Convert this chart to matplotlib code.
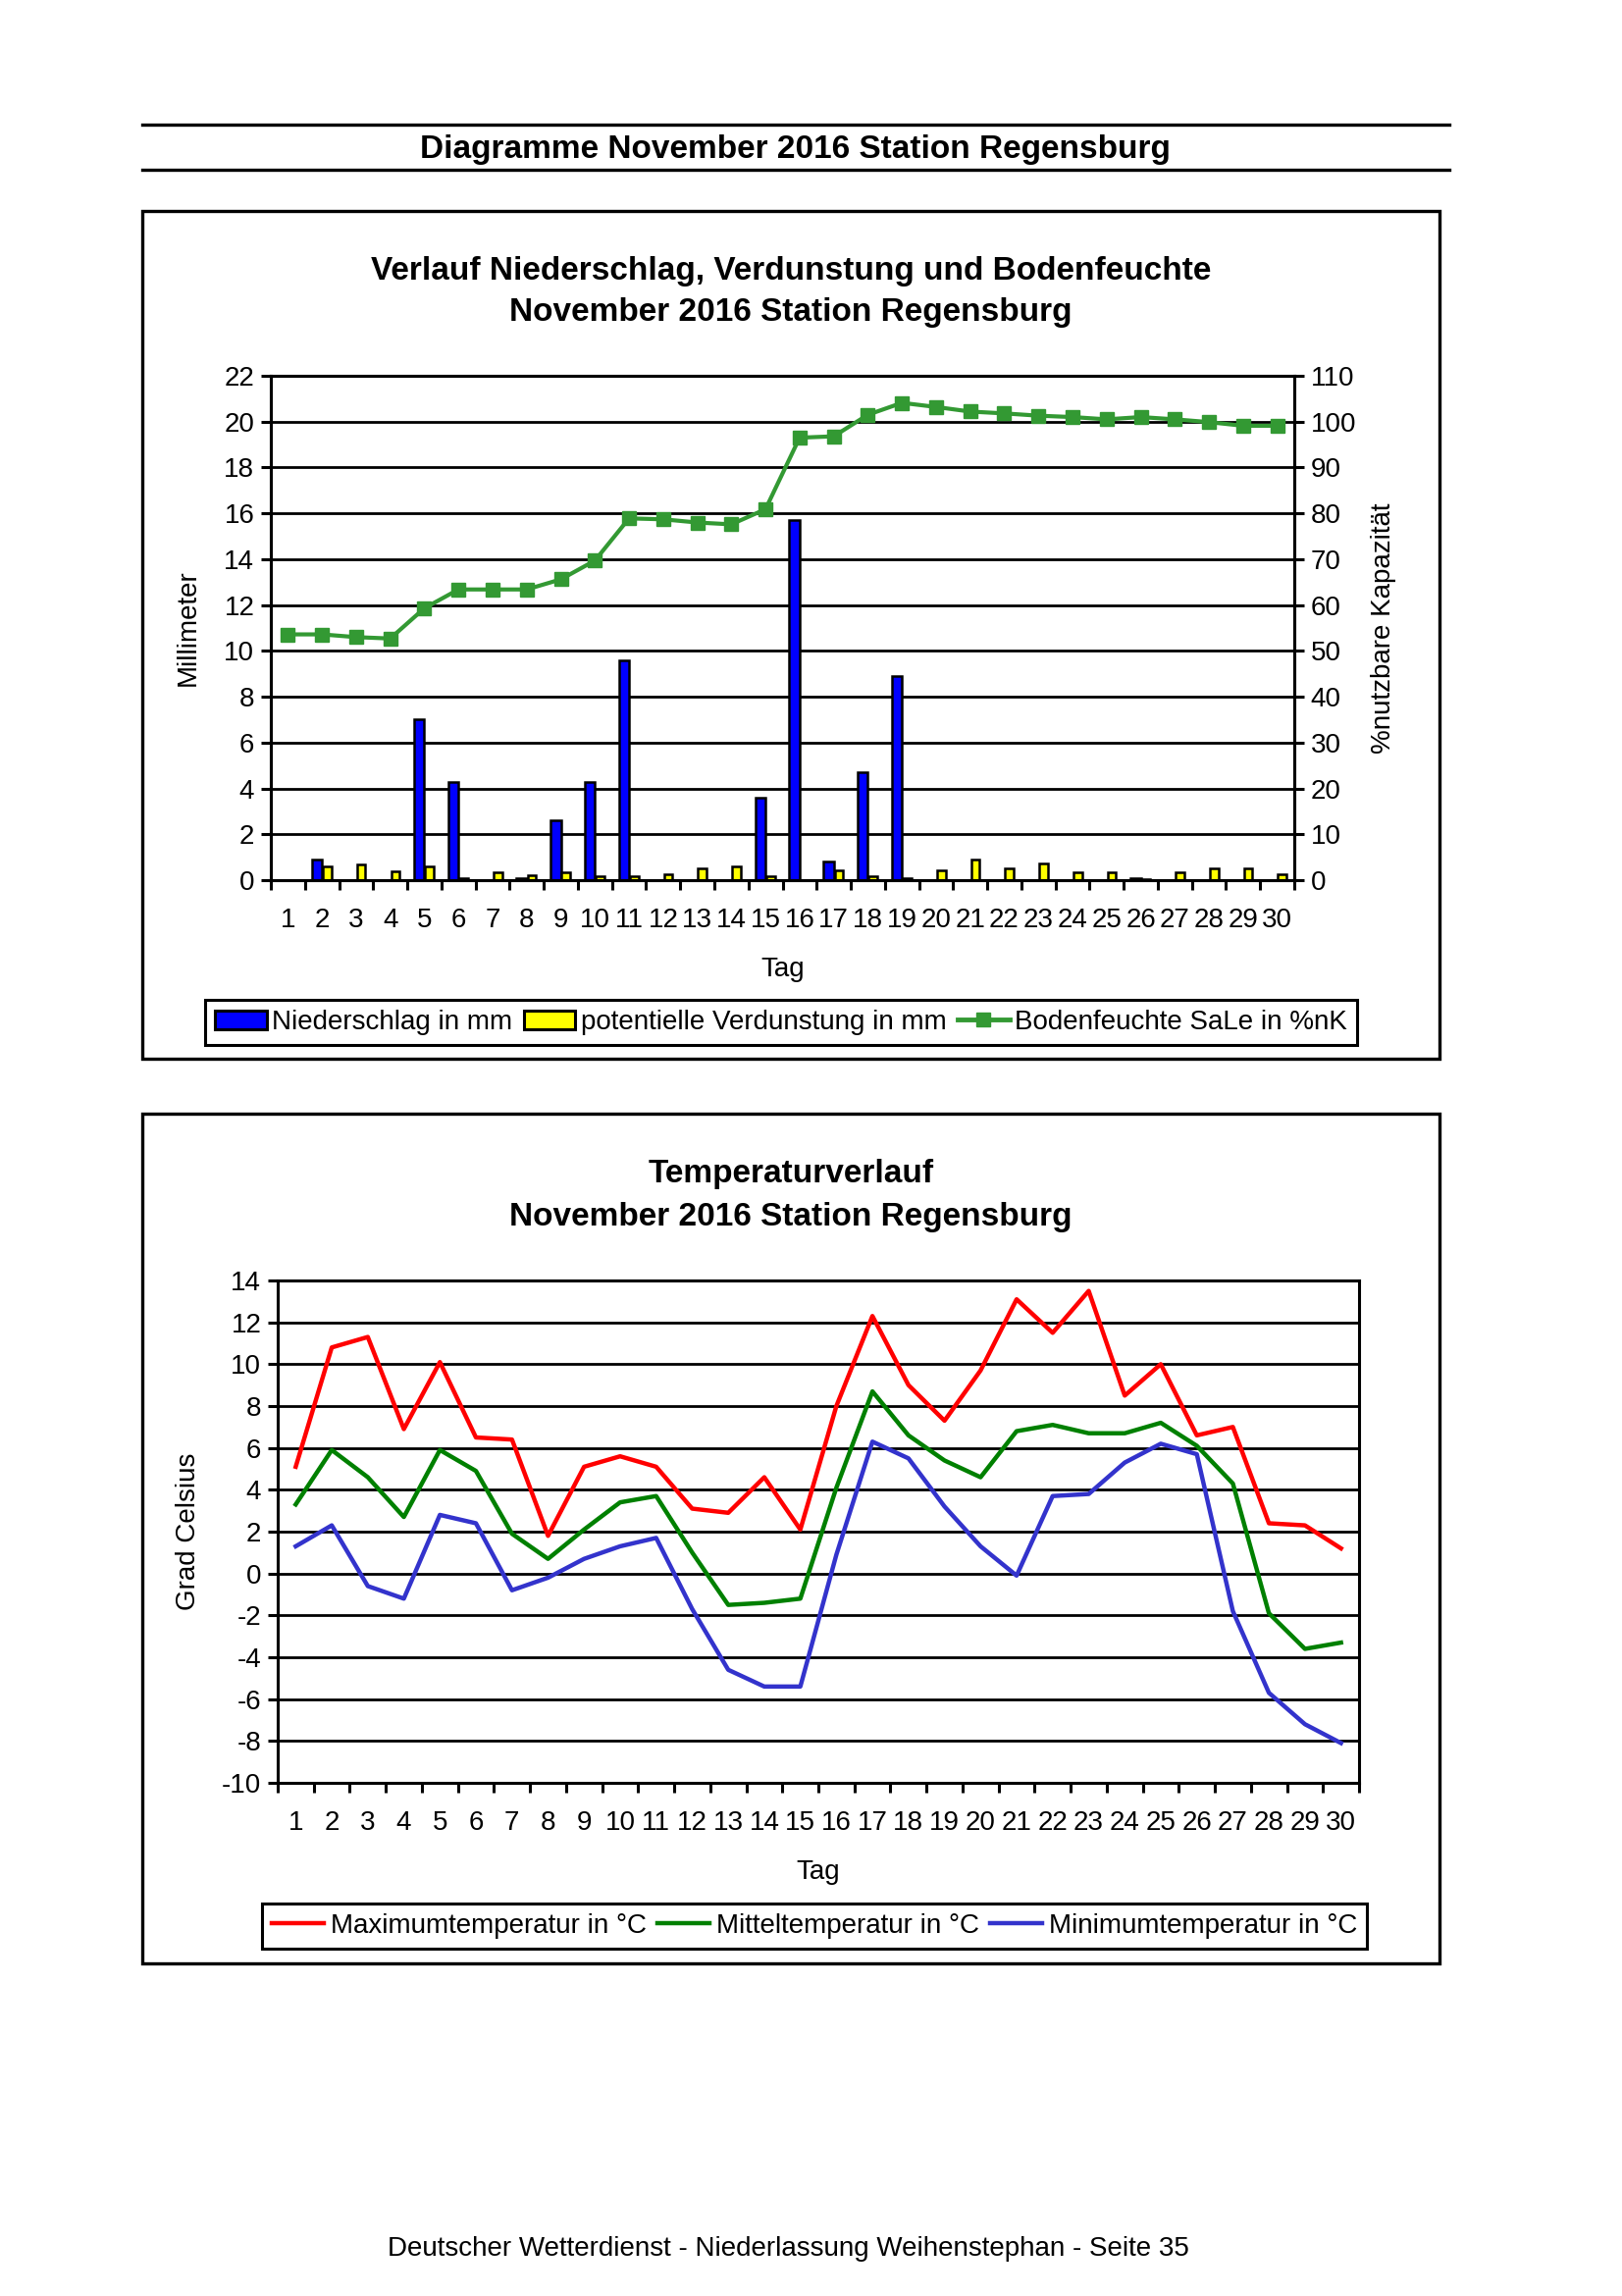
import matplotlib
matplotlib.use("Agg")
import matplotlib.pyplot as plt
from matplotlib.patches import Rectangle, Patch
from matplotlib.lines import Line2D

plt.rcParams['font.family'] = ['Liberation Sans', 'DejaVu Sans']
plt.rcParams['axes.unicode_minus'] = False

# Daten November 2016, Station Regensburg
tage = list(range(1, 31))
niederschlag = [0, 0.9, 0, 0, 7.0, 4.3, 0, 0.1, 2.6, 4.3, 9.6, 0, 0, 0, 3.6,
                15.7, 0.8, 4.7, 8.9, 0, 0, 0, 0, 0, 0, 0.1, 0, 0, 0, 0]
verdunstung = [0, 0.6, 0.7, 0.4, 0.6, 0.1, 0.35, 0.2, 0.35, 0.15, 0.15, 0.27, 0.53, 0.62, 0.15,
               0, 0.43, 0.15, 0.1, 0.43, 0.9, 0.53, 0.72, 0.35, 0.35, 0.05, 0.35, 0.53, 0.53, 0.27]
bodenfeuchte = [53.6, 53.6, 53.0, 52.7, 59.3, 63.4, 63.4, 63.4, 65.6, 69.7, 78.9, 78.7, 78.0, 77.6, 80.9,
                96.5, 96.8, 101.5, 104.1, 103.2, 102.2, 101.8, 101.3, 101.0, 100.5, 101.0, 100.5, 99.9, 99.1, 99.1]
tmax = [5.1, 10.8, 11.3, 6.9, 10.1, 6.5, 6.4, 1.8, 5.1, 5.6, 5.1, 3.1, 2.9, 4.6, 2.1,
        8.0, 12.3, 9.0, 7.3, 9.7, 13.1, 11.5, 13.5, 8.5, 10.0, 6.6, 7.0, 2.4, 2.3, 1.2]
tmit = [3.3, 5.9, 4.6, 2.7, 5.9, 4.9, 1.9, 0.7, 2.1, 3.4, 3.7, 1.0, -1.5, -1.4, -1.2,
        4.1, 8.7, 6.6, 5.4, 4.6, 6.8, 7.1, 6.7, 6.7, 7.2, 6.1, 4.3, -1.9, -3.6, -3.3]
tmin = [1.3, 2.3, -0.6, -1.2, 2.8, 2.4, -0.8, -0.2, 0.7, 1.3, 1.7, -1.7, -4.6, -5.4, -5.4,
        0.9, 6.3, 5.5, 3.2, 1.3, -0.1, 3.7, 3.8, 5.3, 6.2, 5.7, -1.8, -5.7, -7.2, -8.1]

W, H = 1653, 2340
fig = plt.figure(figsize=(W / 100, H / 100), dpi=100)
fs = 20


def fx(px):
    return px / W


def fy(py):
    return 1 - py / H


def add_ax(l, t, r, b):
    return fig.add_axes([fx(l), fy(b), (r - l) / W, (b - t) / H])


# Kopfzeile
for yy in (127, 173):
    fig.add_artist(Line2D([fx(145), fx(1477)], [fy(yy), fy(yy)], color='black', lw=2.4,
                          transform=fig.transFigure))
fig.text(fx(810), fy(153), 'Diagramme November 2016 Station Regensburg', ha='center', va='center',
         fontsize=24, fontweight='bold')

# Rahmen
for t, b in ((215, 1079), (1135, 2001)):
    fig.add_artist(Rectangle((fx(145), fy(b)), (1467 - 145) / W, (b - t) / H, fill=False,
                             lw=2.4, ec='black', transform=fig.transFigure))


def style_axis(ax):
    ax.set_xlim(0.5, 30.5)
    ax.set_axisbelow(True)
    ax.yaxis.grid(True, color='black', lw=2.0)
    for s in ax.spines.values():
        s.set_linewidth(2.2)
        s.set_color('black')
    ax.set_xticks([t + 0.5 for t in range(31)])
    ax.set_xticklabels([])
    ax.set_xticks(tage, minor=True)
    ax.set_xticklabels([str(t) for t in tage], minor=True, fontsize=fs)
    ax.tick_params(axis='x', which='major', direction='out', length=7, width=2.2)
    ax.tick_params(axis='x', which='minor', length=0, pad=20)
    ax.tick_params(axis='y', direction='out', length=7, width=2.2, labelsize=fs, pad=5)


# Diagramm 1: Niederschlag, Verdunstung, Bodenfeuchte
fig.text(fx(806), fy(276), 'Verlauf Niederschlag, Verdunstung und Bodenfeuchte', ha='center',
         va='center', fontsize=24, fontweight='bold')
fig.text(fx(806), fy(319), 'November 2016 Station Regensburg', ha='center', va='center',
         fontsize=24, fontweight='bold')

ax1 = add_ax(276, 383, 1319, 897)
style_axis(ax1)
ax1.bar([t - 0.15 for t in tage], niederschlag, width=0.3, color='#0000ff', edgecolor='black',
        lw=1.8, zorder=3)
ax1.bar([t + 0.15 for t in tage], verdunstung, width=0.25, color='#ffff00', edgecolor='black',
        lw=1.8, zorder=3)
ax1.set_ylim(0, 22)
ax1.set_yticks(range(0, 23, 2))
ax1.set_xlabel('Tag', fontsize=fs)
ax1.xaxis.set_label_coords(0.5, -(988 - 897) / 514, transform=ax1.transAxes)
ax1.xaxis.label.set_va('center')
ax1.set_ylabel('Millimeter', fontsize=fs)
ax1.yaxis.set_label_coords(-(276 - 205) / 1043, 0.5)

ax1b = ax1.twinx()
ax1b.plot(tage, bodenfeuchte, color='#339933', lw=3.0, marker='s', markersize=10, zorder=4)
ax1b.set_ylim(0, 110)
ax1b.set_yticks(range(0, 111, 10))
ax1b.tick_params(axis='y', direction='out', length=7, width=2.2, labelsize=fs, pad=5)
for s in ax1b.spines.values():
    s.set_linewidth(2.2)
ax1b.set_ylabel('%nutzbare Kapazität', fontsize=fs)
ax1b.yaxis.set_label_coords((1397 - 276) / 1043, 0.5)

h1 = [Patch(facecolor='#0000ff', edgecolor='black', lw=2.2),
      Patch(facecolor='#ffff00', edgecolor='black', lw=2.2),
      Line2D([], [], color='#339933', lw=3.5, marker='s', markersize=10)]
l1 = ['Niederschlag in mm', 'potentielle Verdunstung in mm', 'Bodenfeuchte SaLe in %nK']
leg1 = fig.legend(h1, l1, loc='center', bbox_to_anchor=(fx(796), fy(1042)), ncol=3, fontsize=fs,
                  frameon=True, fancybox=False, edgecolor='black', framealpha=1,
                  handlelength=1.9, handleheight=0.7, handletextpad=0.2, columnspacing=0.4,
                  borderpad=0.35)
leg1.get_frame().set_linewidth(2.2)

# Diagramm 2: Temperaturverlauf
fig.text(fx(806), fy(1197), 'Temperaturverlauf', ha='center', va='center', fontsize=24,
         fontweight='bold')
fig.text(fx(806), fy(1241), 'November 2016 Station Regensburg', ha='center', va='center',
         fontsize=24, fontweight='bold')

ax2 = add_ax(283, 1305, 1385, 1817)
style_axis(ax2)
ax2.plot(tage, tmax, color='#ff0000', lw=3.2, label='Maximumtemperatur in °C')
ax2.plot(tage, tmit, color='#008000', lw=3.2, label='Mitteltemperatur in °C')
ax2.plot(tage, tmin, color='#3333cc', lw=3.2, label='Minimumtemperatur in °C')
ax2.set_ylim(-10, 14)
ax2.set_yticks(range(-10, 15, 2))
ax2.set_xlabel('Tag', fontsize=fs)
ax2.xaxis.set_label_coords(0.5, -(1908 - 1817) / 512, transform=ax2.transAxes)
ax2.xaxis.label.set_va('center')
ax2.set_ylabel('Grad Celsius', fontsize=fs)
ax2.yaxis.set_label_coords(-(283 - 205) / 1102, 0.5)

leg2 = fig.legend(*ax2.get_legend_handles_labels(), loc='center', bbox_to_anchor=(fx(830), fy(1963)),
                  ncol=3, fontsize=fs, frameon=True, fancybox=False, edgecolor='black',
                  framealpha=1, handlelength=1.9, handletextpad=0.25, columnspacing=0.4,
                  borderpad=0.35)
leg2.get_frame().set_linewidth(2.2)

# Fusszeile
fig.text(fx(803), fy(2292), 'Deutscher Wetterdienst - Niederlassung Weihenstephan - Seite 35',
         ha='center', va='center', fontsize=fs)

fig.savefig('out.png', dpi=100)
